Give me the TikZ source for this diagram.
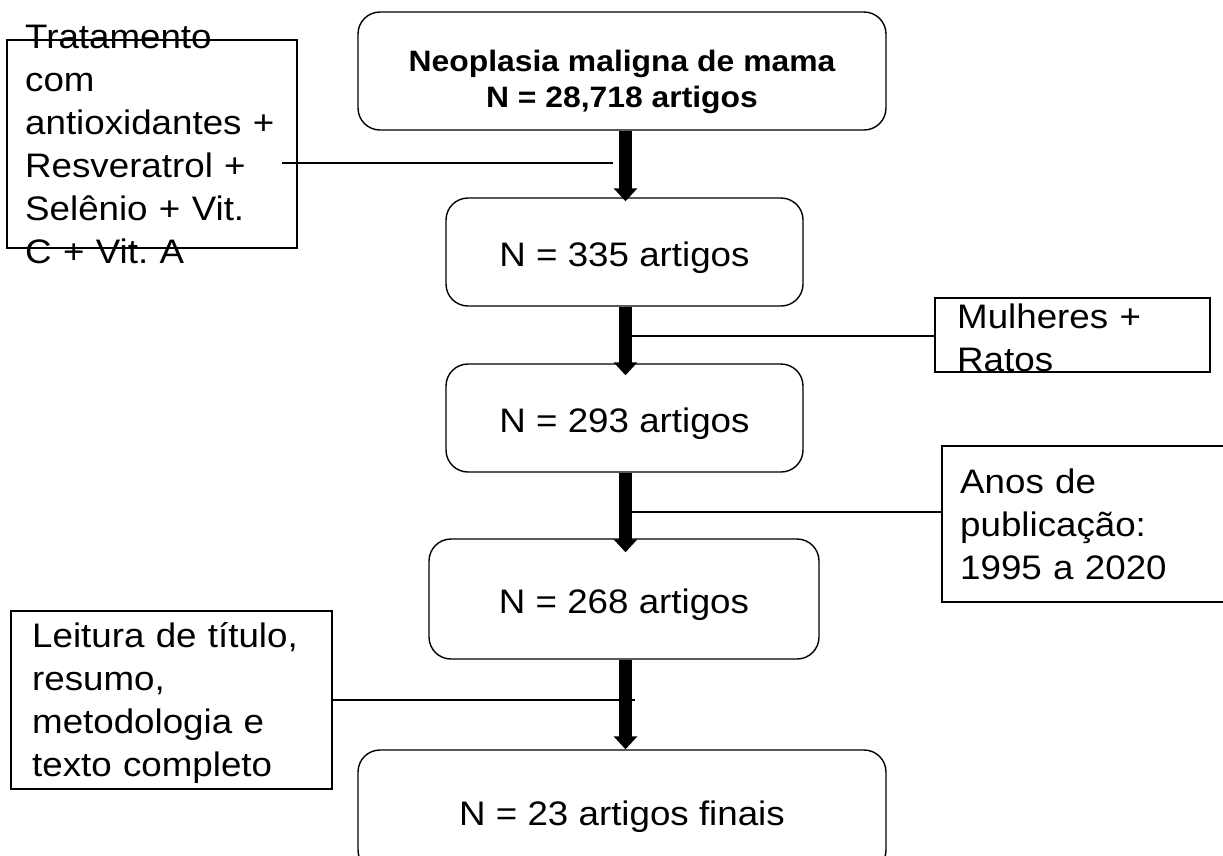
\documentclass[tikz,border=0pt]{standalone}
\usepackage{fontspec}
\setmainfont[FakeStretch=1.08]{Liberation Sans}
\usetikzlibrary{arrows.meta}
\frenchspacing

\tikzset{
  etapa/.style={draw, line width=1.4pt, rounded corners=22pt, inner sep=0pt,
    text height=28pt, text depth=0pt, font=\fontsize{34}{43}\selectfont},
  caixa/.style={draw, line width=1.4pt, inner sep=0pt},
  texto/.style={inner sep=0pt, anchor=base west, align=left, text width=320pt,
    font=\fontsize{34}{43}\selectfont},
  fluxo/.style={line width=12.5pt, -{Triangle[width=23pt,length=13pt]}},
  ramo/.style={line width=1.4pt},
}

\begin{document}
\begin{tikzpicture}[x=1pt,y=-1pt]
\useasboundingbox (0,0) rectangle (1223,855);

	% etapas
	\node[etapa, minimum width=528pt, minimum height=118pt] (n0) at (622,71) {};
	\node[font=\fontsize{29.5}{36}\selectfont\bfseries, align=center, inner sep=0pt] (t0) at (622,82) {Neoplasia maligna de mama\\N = 28,718 artigos};
	\node[etapa, minimum width=357pt, minimum height=108pt] (n1) at (624.5,252) {N = 335 artigos};
	\node[etapa, minimum width=357pt, minimum height=108pt] (n2) at (624.5,418) {N = 293 artigos};
	\node[etapa, minimum width=390pt, minimum height=120pt] (n3) at (624,599) {N = 268 artigos};
	\node[etapa, minimum width=528pt, minimum height=122pt] (n4) at (622,811) {N = 23 artigos finais};

	% criterios
	\node[caixa, minimum width=290pt, minimum height=208pt] (trat) at (152,144) {};
	\node[texto] (ttrat) at (25,48) {Tratamento\\com\\antioxidantes +\\Resveratrol +\\Selênio + Vit.\\C + Vit. A};
	\node[caixa, minimum width=275pt, minimum height=74pt] (mul) at (1072.5,335) {};
	\node[texto] (tmul) at (957,328) {Mulheres +\\Ratos};
	\node[caixa, minimum width=300pt, minimum height=156pt] (anos) at (1092,524) {};
	\node[texto] (tanos) at (960,493) {Anos de\\publicação:\\1995 a 2020};
	\node[caixa, minimum width=321pt, minimum height=178pt] (leit) at (171.5,700) {};
	\node[texto] (tleit) at (32,647) {Leitura de título,\\resumo,\\metodologia e\\texto completo};

	% ramos
	\coordinate (eixo) at (625.5,0);
	\coordinate (r0) at (282,163);
	\coordinate (r1) at (613,163);
	\coordinate (r2) at (632,336);
	\coordinate (r3) at (632,512);
	\coordinate (r4) at (635,700);
	\draw[ramo] (r0) -- (r1);
	\draw[ramo] (r2) -- (r2 -| mul.west);
	\draw[ramo] (r3) -- (r3 -| anos.west);
	\draw[ramo] (leit.east) -- (r4);

	% setas
	\draw[fluxo, shorten >=-4pt] (n0.south -| eixo) -- (n1.north -| eixo);
	\draw[fluxo, shorten >=-12pt] (n1.south -| eixo) -- (n2.north -| eixo);
	\draw[fluxo, shorten >=-14pt] (n2.south -| eixo) -- (n3.north -| eixo);
	\draw[fluxo] (n3.south -| eixo) -- (n4.north -| eixo);

\end{tikzpicture}
\end{document}
